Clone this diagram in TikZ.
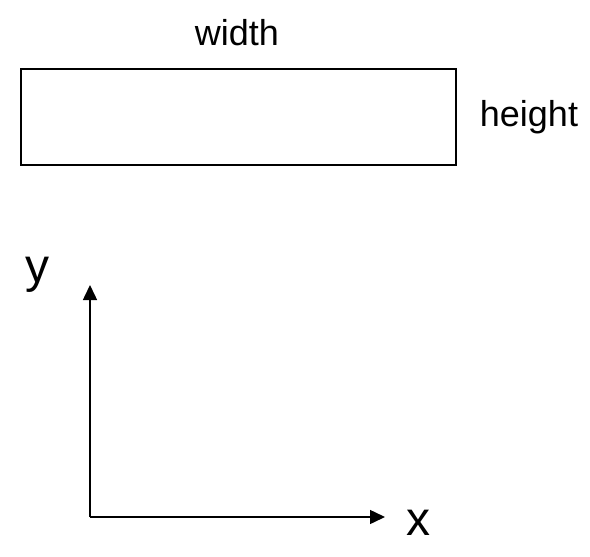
\documentclass[tikz,border=0pt]{standalone}
\usepackage{fontspec}
\setmainfont{Liberation Sans}
\usetikzlibrary{arrows.meta,positioning}

\begin{document}
\begin{tikzpicture}[x=1pt,y=-1pt,
    lbl/.style={font=\fontsize{36}{43}\selectfont, inner sep=0pt},
    axlbl/.style={font=\fontsize{48}{58}\selectfont, inner sep=0pt},
    axis/.style={line width=1.5pt, -{Triangle[length=15pt,width=14pt]}}]
  \useasboundingbox (0,0) rectangle (590,557);
  % the box
  \draw[line width=1.5pt] (21,69) rectangle (456,165);
  \node[lbl, anchor=base] (width) at (237,45) {width};
  \node[lbl, anchor=base] (height) at (529,126) {height};
  % axes
  \coordinate (origin) at (90,517);
  \coordinate (ytip) at (90,285);
  \coordinate (xtip) at (385,517);
  \draw[axis] (origin) -- (ytip);
  \draw[axis] (origin) -- (xtip);
  \node[axlbl, anchor=base] (ylabel) at (38,282) {y};
  \node[axlbl, anchor=base] (xlabel) at (418,535) {x};
\end{tikzpicture}
\end{document}
